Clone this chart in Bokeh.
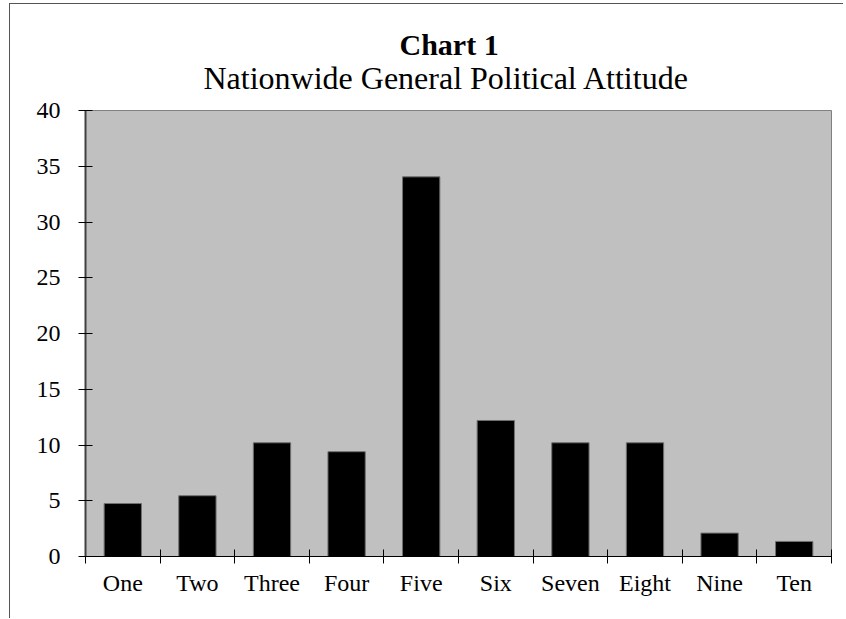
from bokeh.plotting import figure
from bokeh.models import FixedTicker, Range1d, Title, ColumnDataSource
from bokeh.embed import file_html
from bokeh.resources import INLINE

categories = ["One", "Two", "Three", "Four", "Five", "Six", "Seven", "Eight", "Nine", "Ten"]
values = [4.75, 5.45, 10.2, 9.4, 34.05, 12.2, 10.2, 10.2, 2.1, 1.35]
y_ticks = [0, 5, 10, 15, 20, 25, 30, 35, 40]
title_text = "Chart 1"
subtitle_text = "Nationwide General Political Attitude"

FONT = "Liberation Serif"

xpos = [i + 0.5 for i in range(len(categories))]
src = ColumnDataSource(dict(x=xpos, top=values))

p = figure(width=834, height=615, output_backend="svg", toolbar_location=None,
           x_range=Range1d(0, len(categories)), y_range=Range1d(0, 40),
           min_border_left=75, min_border_right=13, min_border_top=106, min_border_bottom=63)
p.styles = {"margin-left": "9px", "margin-top": "3px",
            "border-left": "1px solid #555555", "border-top": "1px solid #555555"}

p.background_fill_color = "#C0C0C0"
p.border_fill_color = "white"
p.outline_line_color = "#808080"
p.outline_line_width = 1
p.grid.visible = False

p.vbar(x="x", top="top", width=0.5, bottom=0, source=src,
       fill_color="black", line_color="#707070", line_width=1)

# x axis: labels at centres, tick marks at category boundaries
xa = p.xaxis[0]
xa.ticker = FixedTicker(ticks=xpos, minor_ticks=list(range(len(categories) + 1)))
xa.major_label_overrides = {x: c for x, c in zip(xpos, categories)}
xa.major_tick_in = 0
xa.major_tick_out = 0
xa.minor_tick_in = 7
xa.minor_tick_out = 7
xa.minor_tick_line_color = "black"
xa.axis_line_color = "black"
xa.major_label_standoff = 6
xa.major_label_text_font = FONT
xa.major_label_text_font_size = "24px"
xa.major_label_text_color = "black"

ya = p.yaxis[0]
ya.ticker = FixedTicker(ticks=y_ticks, minor_ticks=[])
ya.major_tick_in = 7
ya.major_tick_out = 7
ya.major_tick_line_color = "black"
ya.axis_line_color = "#404040"
ya.axis_line_width = 2
ya.major_label_standoff = 18
ya.major_label_text_font = FONT
ya.major_label_text_font_size = "24px"
ya.major_label_text_color = "black"

sub = Title(text=subtitle_text, align="left", text_font=FONT, text_font_size="32px",
            text_font_style="normal", text_color="black", standoff=30, offset=118)
main = Title(text=title_text, align="left", text_font=FONT, text_font_size="30px",
             text_font_style="bold", text_color="black", standoff=-36, offset=314)
p.add_layout(sub, "above")
p.add_layout(main, "above")

open("out.html", "w").write(file_html(p, INLINE))
